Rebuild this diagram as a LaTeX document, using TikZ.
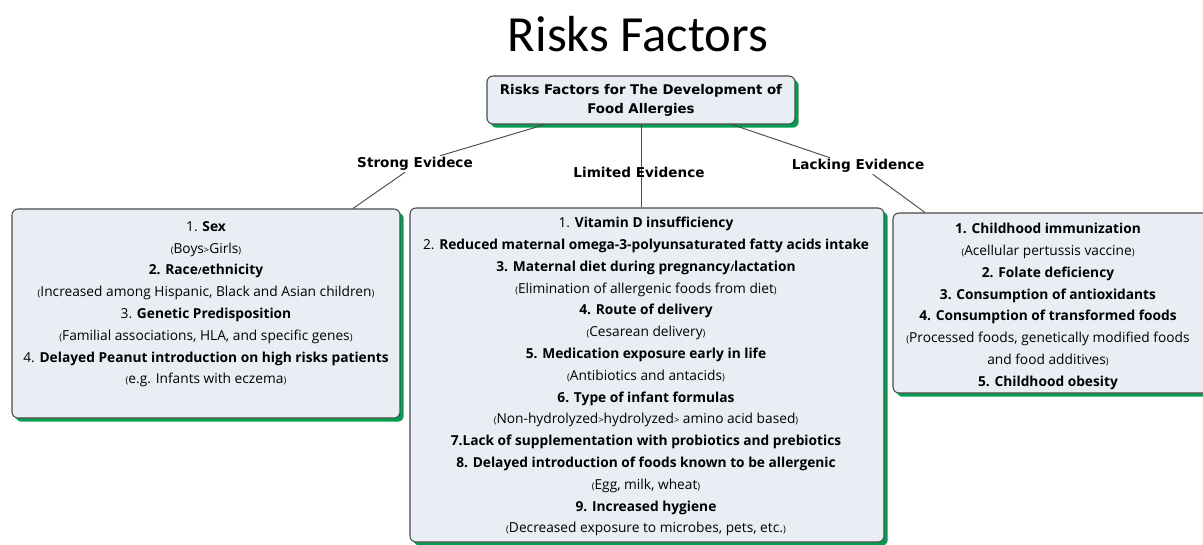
\documentclass[tikz,border=0pt]{standalone}
\usepackage{fontspec}
\setmainfont{Open Sans}
\newfontfamily\headfont{DejaVu Sans}
\newfontfamily\titlefont{Carlito}
\usepackage{xcolor}
\usepackage{tikz}
\usetikzlibrary{positioning,shapes,shadows}
\definecolor{boxfill}{HTML}{E8EEF3}
\definecolor{boxline}{HTML}{4A4A4A}
\definecolor{shadowgreen}{HTML}{00A050}
\tikzstyle{riskbox}=[rectangle, draw=boxline, line width=0.8pt, rounded corners=4.5pt, fill=boxfill,
        drop shadow={shadow xshift=2.8pt, shadow yshift=-2.8pt, fill=shadowgreen, opacity=1}]
\tikzstyle{factors}=[text centered, align=center, inner sep=0pt, anchor=north,
        font=\fontsize{10.3}{16.35}\selectfont]
\tikzstyle{evidence}=[inner sep=1pt, font=\headfont\bfseries\fontsize{10.2}{11}\selectfont]
\tikzstyle{link}=[draw=boxline, line width=0.7pt]
\newcommand{\sm}[1]{{\scriptsize #1}}
\newcommand{\note}[1]{\sm{(}#1\sm{)}}

\begin{document}
\begin{tikzpicture}[x=0.75pt, y=-0.75pt]
        \useasboundingbox (0,0) rectangle (1203,544);
        \node (title) [font=\titlefont\fontsize{38}{38}\selectfont] at (638,34) {Risks Factors};
        \node (root) [riskbox, minimum width=231pt, minimum height=36pt, align=center,
          font=\headfont\bfseries\fontsize{10}{14.25}\selectfont] at (641,100)
        {
          Risks Factors for The Development of\\Food Allergies
        };
        % evidence labels
        \node (strong) [evidence] at (415,164) {Strong Evidece};
        \node (lacking) [evidence] at (858,166) {Lacking Evidence};
        % boxes
        \node (strongbox) [riskbox, minimum width=291pt, minimum height=156.75pt] at (206,313.5) {};
        \node (limitedbox) [riskbox, minimum width=355.5pt, minimum height=250.5pt] at (647,375) {};
        \node (lackingbox) [riskbox, minimum width=241.5pt, minimum height=135pt] at (1054,303) {};
        % connectors
        \draw[link] ([xshift=-72pt]root.south) -- ([xshift=18.75pt]strong.north);
        \draw[link] ([xshift=-7.5pt]strong.south) -- ([xshift=110.25pt]strongbox.north);
        \draw[link] (root.south) -- (root.south |- limitedbox.north);
        \draw[link] ([xshift=68.25pt]root.south) -- ([xshift=-21pt]lacking.north);
        \draw[link] ([xshift=11pt]lacking.south) -- ([xshift=-96.75pt]lackingbox.north);
        \node (limited) [evidence] at (639,172) {Limited Evidence};
        % lists
        \node (strongtext) [factors] at (206,221)
        {
          1. \textbf{Sex}\\
          \note{Boys\sm{>}Girls}\\
          \textbf{2. Race\sm{/}ethnicity}\\
          \note{Increased among Hispanic, Black and Asian children}\\
          3. \textbf{Genetic Predisposition}\\
          \note{Familial associations, HLA, and specific genes}\\
          4. \textbf{Delayed Peanut introduction on high risks patients}\\
          \note{e.g. Infants with eczema}
        };
        \node (limitedtext) [factors] at (646,217)
        {
          1. \textbf{Vitamin D insufficiency}\\
          2. \textbf{Reduced maternal omega-3-polyunsaturated fatty acids intake}\\
          \textbf{3. Maternal diet during pregnancy\sm{/}lactation}\\
          \note{Elimination of allergenic foods from diet}\\
          \textbf{4. Route of delivery}\\
          \note{Cesarean delivery}\\
          \textbf{5. Medication exposure early in life}\\
          \note{Antibiotics and antacids}\\
          \textbf{6. Type of infant formulas}\\
          \note{Non-hydrolyzed\sm{>}hydrolyzed\sm{>} amino acid based}\\
          \textbf{7.Lack of supplementation with probiotics and prebiotics}\\
          \textbf{8. Delayed introduction of foods known to be allergenic}\\
          \note{Egg, milk, wheat}\\
          \textbf{9. Increased hygiene}\\
          \note{Decreased exposure to microbes, pets, etc.}
        };
        \node (lackingtext) [factors] at (1048,223)
        {
          \textbf{1. Childhood immunization}\\
          \note{Acellular pertussis vaccine}\\
          \textbf{2. Folate deficiency}\\
          \textbf{3. Consumption of antioxidants}\\
          \textbf{4. Consumption of transformed foods}\\
          \sm{(}Processed foods, genetically modified foods\\
          and food additives\sm{)}\\
          \textbf{5. Childhood obesity}
        };
\end{tikzpicture}
\end{document}
